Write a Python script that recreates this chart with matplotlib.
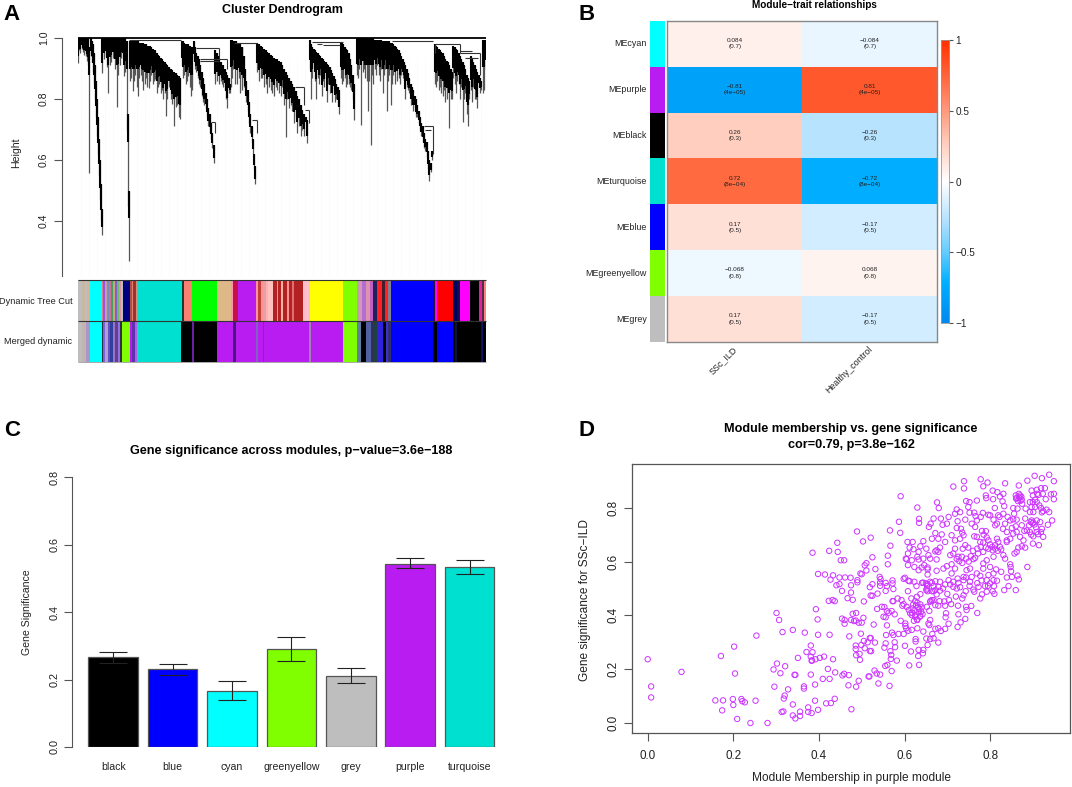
#!/usr/bin/env python3
"""WGCNA four panel figure: dendrogram, module-trait heatmap, bars, scatter."""
import numpy as np
import matplotlib
matplotlib.use('Agg')
import matplotlib.pyplot as plt
from matplotlib.colors import LinearSegmentedColormap, Normalize

plt.rcParams['font.family'] = ['Liberation Sans', 'DejaVu Sans']

W, H = 1072, 787
INK = '#222222'
AXIS = '#555555'

PURPLE = '#B91CF0'
TURQ = '#00E0D0'
GREY = '#BEBEBE'
GY = '#7FFF00'

# ── A: dendrogram, (leaf, top height, tip height) per drawn branch ──
spikes_left = [
    (1, 1, .917), (5, 1, .96), (9, 1, .95), (13, 1, .965), (17, 1, .955), (21, 1, .945),
    (25, 1, .94), (29, 1, .925), (32, 1, .91), (36, .97, .556),
    (40, 1, .94), (43, .99, .92), (46, .98, .89), (49, .95, .85), (52, .91, .80),
    (55, .86, .74), (58, .80, .68), (61, .74, .62), (64, .67, .55), (67, .60, .47),
    (70, .52, .40), (73, .44, .355),
    (75, 1, .885), (80, 1, .93), (85, 1, .94), (89, 1, .905), (93, 1, .82), (97, 1, .91),
    (102, 1, .92), (107, 1, .935), (112, 1, .90), (118, 1, .775), (122, 1, .88), (127, 1, .91),
    (132, 1, .935), (136, 1, .93), (140, 1, .875), (144, 1, .89),
    (148, .99, .70), (151, .75, .45), (154, .50, .27),
    (158, .99, .86), (162, .99, .87), (166, .99, .825), (170, .99, .86), (174, .99, .88),
    (178, .99, .84), (182, .99, .81), (186, .985, .87), (190, .985, .88), (194, .985, .86),
    (198, .985, .83), (202, .98, .85), (206, .98, .87), (210, .975, .84), (214, .975, .835),
    (218, .975, .86), (222, .97, .88), (226, .965, .85), (230, .96, .86), (234, .96, .865),
    (238, .95, .82), (242, .945, .84), (246, .94, .85), (250, .935, .82), (254, .93, .83),
    (258, .925, .80), (262, .92, .82), (266, .915, .745), (270, .91, .80), (275, .905, .84),
    (280, .90, .80), (285, .895, .785), (290, .89, .71), (295, .885, .775), (300, .88, .78),
    (305, .875, .74), (308, .87, .735),
    (313, .99, .91), (317, .99, .87), (321, .985, .88), (325, .98, .85), (329, .98, .86),
    (333, .98, .875), (337, .975, .84), (341, .97, .81), (345, .97, .83),
    (349, .99, .93), (353, .97, .90), (357, .95, .89), (361, .94, .87), (365, .93, .85),
    (369, .91, .84), (373, .89, .81), (377, .87, .79), (381, .85, .78), (385, .82, .77),
    (389, .80, .74), (393, .77, .71), (397, .75, .69), (401, .72, .67), (405, .69, .64),
    (409, .65, .59),
    (414, .96, .85), (418, .95, .86), (422, .94, .88), (426, .93, .85), (430, .92, .86),
    (434, .91, .85), (438, .91, .84), (442, .90, .83), (446, .89, .80), (450, .88, .77),
    (454, .87, .82), (458, .85, .82),
]
spikes_mid = [
    (460, .995, .84), (464, .995, .87), (468, .99, .90), (472, .99, .85), (476, .99, .92),
    (480, .985, .85), (484, .98, .87), (488, .98, .82), (493, .97, .83),
    (495, .97, .87), (499, .94, .84), (503, .90, .82), (507, .86, .79), (511, .83, .76),
    (515, .79, .72), (519, .75, .69), (523, .71, .66), (527, .67, .62), (531, .62, .57),
    (534, .58, .52),
    (540, .985, .89), (545, .98, .86), (550, .975, .87), (555, .97, .87), (560, .965, .84),
    (565, .96, .85), (570, .955, .82), (575, .95, .84), (580, .945, .83), (585, .94, .82),
    (590, .935, .81), (595, .93, .84), (600, .93, .83), (605, .925, .82), (610, .92, .81),
    (615, .91, .84), (620, .90, .78), (625, .89, .676), (630, .88, .80), (635, .87, .77),
    (640, .86, .78), (645, .85, .76), (650, .84, .72), (655, .825, .74), (660, .81, .69),
    (665, .80, .71), (670, .78, .68), (675, .765, .70), (680, .75, .68), (685, .74, .72),
    (690, .73, .655),
    (697, .995, .90), (701, .98, .80), (705, .97, .87), (709, .965, .90), (713, .96, .86),
    (717, .955, .80), (721, .95, .87), (725, .945, .85), (729, .94, .88), (733, .935, .81),
    (737, .93, .86), (741, .925, .84), (745, .92, .87), (749, .915, .79), (753, .91, .85),
    (757, .905, .82), (761, .895, .84), (765, .885, .79), (769, .875, .83), (773, .865, .79),
    (777, .85, .80), (781, .84, .78), (785, .83, .75),
    (790, .985, .87), (794, .985, .85), (798, .98, .86), (802, .97, .87), (806, .965, .84),
    (810, .96, .85), (814, .95, .85), (818, .93, .84), (822, .91, .83), (826, .88, .80),
    (830, .85, .73),
]
spikes_right = [
    (838, 1, .88), (842, 1, .87), (846, 1, .90), (851, 1, .715), (856, 1, .89), (860, 1, .90),
    (864, 1, .87), (868, 1, .86), (872, 1, .76), (876, 1, .86), (880, 1, .65), (884, 1, .88),
    (888, 1, .85), (892, .995, .90), (896, .995, .88), (900, .995, .91), (904, .995, .88),
    (908, .995, .86), (912, .995, .90), (916, .99, .82), (920, .99, .88), (924, .99, .90),
    (928, .99, .76), (932, .99, .86), (936, .99, .88), (940, .985, .78), (944, .985, .85),
    (948, .98, .88), (952, .975, .85), (956, .97, .90), (960, .965, .86), (964, .96, .87),
    (968, .95, .85), (972, .94, .88), (976, .93, .87), (980, .92, .86), (984, .91, .80),
    (988, .90, .84), (992, .885, .83), (996, .87, .82), (1000, .85, .78), (1004, .84, .80),
    (1008, .83, .76), (1012, .81, .77), (1016, .80, .74), (1020, .78, .74), (1024, .76, .72),
    (1028, .74, .70), (1032, .72, .68), (1036, .71, .66), (1040, .69, .64), (1044, .67, .63),
    (1048, .66, .61), (1052, .63, .57), (1056, .60, .53), (1060, .59, .56), (1065, .63, .60),
    (1072, .98, .85), (1076, .975, .84), (1080, .97, .86), (1084, .965, .83), (1088, .96, .84),
    (1092, .955, .82), (1096, .95, .81), (1100, .94, .83), (1104, .93, .79), (1108, .925, .80),
    (1112, .92, .83), (1116, .91, .704), (1120, .90, .80), (1124, .89, .80),
    (1128, .975, .87), (1132, .97, .85), (1136, .965, .82), (1140, .96, .86), (1144, .95, .85),
    (1148, .94, .80), (1152, .93, .84), (1156, .92, .726), (1160, .91, .80), (1164, .90, .82),
    (1168, .88, .75), (1172, .87, .71), (1176, .86, .80),
    (1180, .94, .83), (1184, .93, .79), (1188, .92, .84), (1192, .91, .80), (1196, .90, .80),
    (1200, .89, .77), (1204, .88, .84), (1208, .87, .82), (1212, .86, .83),
    (1217, .995, .82), (1221, .995, .83), (1225, .995, .90),
]
# merge branches joining the clusters: (leaf0, leaf1, height)
joins = [
    (155, 310, .995), (355, 425, .966), (368, 450, .93), (368, 425, .925), (400, 414, .725),
    (470, 540, .985), (523, 538, .73), (653, 680, .84), (683, 696, .763), (703, 798, .988),
    (738, 788, .977), (720, 735, .98), (1040, 1066, .71), (1043, 1062, .70), (943, 1068, .991),
    (1073, 1148, .98), (1148, 1183, .958), (1148, 1208, .95), (1163, 1203, .933),
]
# (leaf, height0, height1)
drops = [
    (425, .966, .93), (450, .93, .90), (414, .725, .69), (538, .73, .69), (680, .84, .78),
    (696, .763, .72), (1066, .71, .62), (1208, .95, .88), (1073, .98, .95), (1148, .98, .95),
]

tree_cut_starts = [0, 13, 22, 28, 38, 73, 76, 82, 88, 94, 100, 106, 112, 118, 124, 130, 136, 158,
                   163, 168, 175, 180, 313, 320, 343, 420, 460, 467, 482, 536, 543, 552, 558, 566,
                   572, 588, 598, 603, 611, 618, 628, 634, 645, 650, 676, 698, 798, 838, 845, 855,
                   865, 878, 888, 898, 915, 922, 932, 940, 1070, 1073, 1080, 1128, 1138, 1148,
                   1177, 1204, 1213, 1220]
tree_cut_colors = [GREY, '#C8B8A0', GREY, '#E0B090', '#00FFFF', '#D08090', '#A050E0', '#C0A0A0',
                   '#7090C0', '#D07090', '#40A060', '#D0A080', '#8060D0', '#60C070', '#E090A0', GREY,
                   '#000080', '#B05040', '#E08070', '#A03030', '#D09080', TURQ, '#203830', '#FA8072',
                   '#00FF00', '#DEB887', '#FF90B0', '#C81048', PURPLE, '#FF90A0', '#C04040', '#FF9090',
                   '#E8A0A8', '#FFB0B0', '#FFC0C0', '#B22222', '#FF9080', '#B22222', '#FFB0A0',
                   '#B22222', '#FF9090', '#B22222', '#E07070', '#B22222', '#FFC0CB', '#FFFF00', GY,
                   '#C0A0B0', '#E090C0', '#B070D0', '#E090B0', '#C060C0', '#202060', '#FF2020',
                   '#402030', '#FF2020', '#808090', '#0000FF', '#301030', '#FF00FF', '#FF0000',
                   '#000060', '#101040', '#FF00FF', '#000000', '#E020A0', '#503040', '#FF8080']
merged_starts = [0, 13, 26, 38, 73, 76, 84, 92, 98, 106, 112, 122, 128, 134, 158, 164, 172, 180,
                 312, 343, 349, 420, 468, 476, 536, 543, 558, 560, 694, 700, 798, 838, 851, 866,
                 880, 890, 900, 918, 925, 932, 940, 1068, 1080, 1128, 1134, 1140, 1212, 1216, 1218]
merged_colors = [GREY, '#C4B4B0', '#A898C8', '#00FFFF', '#203040', '#8060E0', '#B0A0D0', '#6050C0',
                 '#3040A0', '#A070C0', '#604090', '#9070E0', '#303040', GY, PURPLE, '#6030B0',
                 '#B060E0', TURQ, '#000000', '#6A20A0', '#000000', PURPLE, '#4A1580', PURPLE,
                 '#8060C0', PURPLE, '#9018E0', PURPLE, '#A080B0', PURPLE, GY, '#6080A0', '#000000',
                 '#5060A0', '#303060', '#204040', '#3020E0', '#000000', '#4030D0', '#303070',
                 '#0000FF', '#000000', '#0000FF', '#000000', '#101040', '#000000', '#101060',
                 '#808080', '#000000']
LEAF_END = 1226

# ── B: module-trait table ──
modules = ['MEcyan', 'MEpurple', 'MEblack', 'MEturquoise', 'MEblue', 'MEgreenyellow', 'MEgrey']
module_colors = ['#00FFFF', PURPLE, '#000000', TURQ, '#0000FF', GY, GREY]
traits = ['SSc_ILD', 'Healthy_control']
cor_ssc = [0.084, -0.81, 0.26, 0.72, 0.17, -0.068, 0.17]
cor_hc = [-0.084, 0.81, -0.26, -0.72, -0.17, 0.068, -0.17]
p_text = ['(0.7)', '(4e−05)', '(0.3)', '(8e−04)', '(0.5)', '(0.8)', '(0.5)']

# ── C: bars ──
bar_names = ['black', 'blue', 'cyan', 'greenyellow', 'grey', 'purple', 'turquoise']
bar_colors = ['#000000', '#0000FF', '#00FFFF', GY, GREY, PURPLE, TURQ]
bar_values = [.266, .230, .167, .291, .212, .544, .533]
bar_upper = [.281, .247, .197, .327, .234, .560, .554]
bar_lower = [.250, .215, .138, .255, .189, .530, .513]

# ── D: scatter, (module membership, gene significance) ──
points_low = [
    (.000, .237), (.008, .136), (.008, .095), (.079, .190), (.171, .249), (.202, .284), (.204, .184),
    (.254, .325), (.158, .084), (.176, .084), (.174, .047), (.199, .089), (.200, .067), (.209, .015),
    (.219, .089), (.221, .081), (.227, .077), (.252, .083), (.240, .000), (.280, .000), (.301, .409),
    (.307, .383), (.315, .338), (.339, .346), (.367, .336), (.393, .423), (.397, .385), (.385, .633),
    (.398, .328), (.425, .328), (.381, .288), (.371, .264), (.385, .263), (.381, .247), (.384, .233),
    (.383, .231), (.392, .237), (.402, .242), (.412, .247), (.433, .237), (.351, .242), (.302, .221),
    (.294, .199), (.321, .211), (.310, .185), (.343, .179), (.345, .179), (.381, .180), (.421, .201),
    (.409, .164), (.425, .164), (.438, .188), (.391, .143), (.296, .135), (.328, .125), (.365, .136),
    (.365, .128), (.320, .102), (.318, .091), (.391, .083), (.339, .069), (.417, .073), (.428, .074),
    (.437, .090), (.398, .049), (.375, .058), (.375, .041), (.383, .037), (.356, .042), (.356, .026),
    (.339, .028), (.345, .017), (.313, .041), (.317, .043), (.476, .051), (.455, .177), (.459, .183),
    (.470, .178), (.469, .140), (.487, .135), (.493, .157), (.516, .173),
]
points_left_cloud = [
    (.489, .712), (.503, .675), (.443, .670), (.444, .636), (.424, .640), (.451, .605), (.459, .605),
    (.507, .586), (.511, .594), (.521, .689), (.398, .554), (.414, .552), (.433, .549), (.427, .533),
    (.448, .541), (.461, .541), (.474, .540), (.441, .512), (.448, .516), (.454, .491), (.475, .512),
    (.475, .485), (.490, .531), (.490, .523), (.497, .556), (.500, .553), (.511, .567), (.467, .464),
    (.479, .458), (.423, .454), (.432, .457), (.437, .453), (.505, .452), (.519, .505), (.521, .474),
    (.479, .406), (.487, .409), (.504, .391), (.454, .388), (.460, .383), (.460, .369), (.475, .383),
    (.482, .379), (.486, .381), (.493, .373), (.500, .373), (.471, .322), (.498, .332), (.519, .316),
    (.505, .305), (.514, .300), (.486, .288), (.486, .275), (.499, .290), (.507, .278), (.519, .268),
    (.495, .257), (.487, .252), (.496, .235),
]
points_sparse = [
    (.525, .616), (.561, .622), (.567, .659), (.566, .716), (.587, .748), (.590, .707), (.591, .843),
    (.630, .801), (.634, .759), (.634, .744), (.676, .820), (.680, .799), (.714, .879), (.739, .899),
    (.739, .872), (.778, .906), (.794, .894), (.784, .880), (.835, .891), (.867, .883), (.887, .901),
    (.904, .919), (.921, .910), (.938, .923), (.949, .899), (.561, .590), (.532, .572), (.542, .543),
    (.544, .535), (.543, .522), (.543, .510), (.556, .521), (.556, .491), (.572, .530), (.572, .519),
    (.574, .498), (.537, .481), (.525, .473), (.559, .509), (.525, .516),
]
points_lower_band = [
    (.598, .536), (.601, .540), (.609, .529), (.612, .527), (.623, .525), (.628, .509), (.641, .521),
    (.654, .552), (.654, .578), (.650, .519), (.653, .509), (.651, .494), (.608, .490), (.584, .463),
    (.572, .453), (.574, .453), (.536, .424), (.547, .432), (.553, .431), (.593, .457), (.598, .442),
    (.605, .432), (.616, .463), (.637, .479), (.629, .469), (.625, .453), (.630, .447), (.627, .437),
    (.637, .441), (.619, .426), (.613, .408), (.617, .401), (.635, .424), (.633, .411), (.639, .414),
    (.626, .401), (.642, .404), (.629, .385), (.595, .436), (.559, .416), (.570, .416), (.577, .404),
    (.551, .395), (.556, .393), (.563, .410), (.528, .366), (.559, .363), (.557, .327), (.571, .336),
    (.574, .327), (.586, .331), (.598, .331), (.556, .296), (.553, .280), (.577, .300), (.578, .282),
    (.567, .267), (.569, .253), (.568, .238), (.601, .287), (.615, .266), (.633, .272), (.644, .272),
    (.643, .259), (.632, .249), (.626, .312), (.626, .303), (.651, .314), (.660, .312), (.668, .315),
    (.665, .331), (.654, .290), (.679, .299), (.591, .380), (.602, .370), (.602, .361), (.604, .352),
    (.609, .343), (.617, .346), (.630, .352), (.644, .340), (.656, .370), (.658, .364), (.660, .383),
    (.630, .383), (.625, .395), (.637, .398), (.672, .350), (.679, .352), (.685, .342), (.695, .350),
    (.703, .369), (.697, .408), (.696, .393), (.726, .404), (.731, .374), (.742, .387), (.724, .357),
    (.770, .409), (.744, .432), (.756, .435), (.745, .420), (.725, .436), (.652, .432), (.658, .417),
    (.661, .454), (.668, .457), (.672, .438), (.679, .436), (.682, .453), (.693, .452), (.695, .436),
    (.704, .457), (.709, .442), (.555, .212), (.560, .216), (.570, .193), (.582, .232), (.611, .214),
    (.634, .216), (.518, .173), (.530, .195), (.535, .184), (.543, .180), (.539, .147), (.565, .138),
    (.521, .316), (.531, .299), (.522, .267),
]
points_top_right = [
    (.897, .864), (.909, .867), (.919, .873), (.928, .873), (.910, .852), (.913, .848), (.923, .852),
    (.900, .846), (.930, .832), (.942, .850), (.949, .852), (.949, .832), (.862, .837), (.867, .852),
    (.870, .846), (.861, .834), (.874, .830), (.865, .825), (.875, .815), (.893, .821), (.900, .821),
    (.905, .830), (.909, .821), (.915, .809), (.905, .803), (.919, .799), (.924, .788), (.932, .793),
    (.938, .784), (.921, .783), (.897, .803), (.893, .784), (.901, .784), (.854, .799), (.856, .778),
    (.864, .797), (.883, .797), (.862, .756), (.882, .760), (.895, .747), (.901, .745), (.897, .753),
    (.909, .753), (.917, .747), (.921, .722), (.919, .710), (.945, .753), (.935, .737), (.924, .692),
    (.909, .710), (.901, .694), (.893, .710), (.886, .716), (.880, .714), (.874, .735), (.860, .731),
    (.851, .725), (.862, .710), (.870, .692), (.878, .679), (.854, .704), (.847, .685), (.839, .679),
    (.914, .661), (.900, .667), (.882, .652), (.874, .657), (.866, .652), (.857, .630), (.887, .580),
    (.867, .534), (.864, .548), (.860, .494), (.843, .509), (.833, .494), (.849, .564), (.847, .590),
    (.848, .580), (.839, .541), (.851, .543),
]
points_middle = [
    (.790, .846), (.791, .836), (.806, .864), (.817, .858), (.831, .852), (.823, .842), (.807, .832),
    (.829, .824), (.833, .806), (.811, .799), (.819, .772), (.831, .778), (.822, .766), (.812, .735),
    (.816, .741), (.841, .766), (.847, .753), (.854, .757), (.835, .741), (.830, .722), (.839, .710),
    (.796, .774), (.783, .781), (.800, .772), (.808, .756), (.769, .827), (.752, .821), (.744, .825),
    (.749, .803), (.752, .782), (.763, .782), (.766, .769), (.778, .766), (.769, .753), (.757, .741),
    (.765, .729), (.742, .756), (.722, .794), (.730, .784), (.718, .778), (.724, .750), (.703, .766),
    (.699, .741), (.689, .737), (.685, .760), (.668, .760), (.661, .741), (.657, .729), (.722, .725),
    (.732, .722), (.735, .708), (.738, .698), (.718, .679), (.710, .698), (.730, .685), (.763, .694),
    (.769, .692), (.781, .714), (.790, .713), (.796, .679), (.784, .671), (.777, .673), (.816, .685),
    (.823, .655), (.819, .673), (.839, .673), (.812, .661), (.806, .642), (.796, .648), (.784, .636),
    (.770, .648), (.765, .614), (.761, .609), (.749, .652), (.742, .661), (.736, .648), (.718, .648),
    (.726, .618), (.734, .618), (.744, .611), (.714, .630), (.707, .624), (.695, .673), (.687, .701),
    (.672, .706), (.679, .685), (.664, .685), (.683, .652), (.675, .642), (.679, .636), (.672, .638),
    (.644, .676), (.637, .657), (.651, .648), (.633, .636), (.619, .673), (.607, .673), (.612, .652),
    (.621, .646), (.608, .630), (.603, .611), (.605, .609), (.617, .605), (.630, .618), (.633, .608),
    (.644, .611), (.656, .624), (.660, .611), (.640, .578), (.623, .580), (.608, .587), (.633, .568),
    (.646, .587), (.654, .571), (.675, .608), (.675, .566), (.691, .574), (.699, .583), (.710, .590),
    (.718, .574), (.710, .556), (.724, .537), (.738, .543), (.744, .541), (.753, .574), (.745, .568),
    (.769, .556), (.784, .593), (.784, .574), (.777, .547), (.796, .550), (.808, .556), (.814, .571),
    (.800, .580), (.826, .562), (.792, .605), (.808, .618), (.831, .624), (.835, .611), (.862, .636),
    (.816, .529), (.808, .531), (.809, .509), (.792, .531), (.800, .519), (.788, .509), (.773, .506),
    (.761, .496), (.763, .488), (.753, .525), (.738, .531), (.757, .543), (.722, .500), (.714, .525),
    (.703, .531), (.707, .515), (.714, .506), (.726, .521), (.743, .490), (.738, .475), (.735, .463),
    (.792, .488), (.781, .478), (.777, .463), (.806, .490), (.683, .525), (.672, .527), (.664, .521),
    (.654, .516), (.652, .500), (.644, .522), (.679, .506), (.668, .509), (.664, .490), (.654, .490),
    (.675, .478), (.683, .492), (.672, .494), (.664, .457), (.660, .451),
]
points_dense_extra = [
    (.868, .838), (.871, .826), (.860, .846), (.873, .841), (.899, .742), (.904, .738), (.891, .735),
    (.907, .728), (.912, .702), (.896, .700), (.785, .700), (.792, .690), (.800, .664), (.805, .655),
    (.812, .648), (.818, .640), (.826, .645), (.790, .652), (.778, .655), (.772, .630), (.760, .640),
    (.755, .620), (.750, .600), (.735, .595), (.728, .602), (.722, .610), (.620, .440), (.624, .418),
    (.632, .430), (.636, .395), (.622, .380), (.640, .430), (.618, .410), (.610, .420), (.660, .525),
    (.668, .490), (.690, .500), (.695, .515), (.700, .480), (.720, .470), (.730, .505), (.752, .510),
    (.770, .520), (.780, .530), (.795, .510), (.810, .480),
]


def axes_px(fig, left, top, right, bottom):
    """Axes placed by pixel edges of the 1072x787 canvas."""
    return fig.add_axes([left / W, 1 - bottom / H, (right - left) / W, (bottom - top) / H])


def fig_text(fig, x, y, s, **kw):
    kw.setdefault('color', INK)
    kw.setdefault('ha', 'center')
    kw.setdefault('va', 'center')
    fig.text(x / W, 1 - y / H, s, **kw)


def r_axis(ax, which, ticks, labels, size=7.6):
    """Base R look: ticks outside, vertical labels on the y axis."""
    if which == 'y':
        ax.set_yticks(ticks)
        ax.set_yticklabels(labels, rotation=90, va='center', fontsize=size, color=INK)
    else:
        ax.set_xticks(ticks)
        ax.set_xticklabels(labels, fontsize=size, color=INK)
    ax.tick_params(axis=which, length=5.5, width=0.8, color=AXIS, pad=3.5)


fig = plt.figure(figsize=(W / 100, H / 100), dpi=100)

for letter, lx, ly in [('A', 12, 14), ('B', 587, 14), ('C', 12, 431), ('D', 587, 431)]:
    fig_text(fig, lx, ly, letter, fontsize=16, fontweight='bold', color='black')

# ── A ──
ax = axes_px(fig, 77.5, 38, 486, 276)
ax.set_xlim(0, LEAF_END)
ax.set_ylim(.22, 1)
for s in ['top', 'right', 'bottom']:
    ax.spines[s].set_visible(False)
ax.spines['left'].set_position(('outward', 11.5))
ax.spines['left'].set_color(AXIS)
ax.spines['left'].set_linewidth(0.8)
ax.set_xticks([])
r_axis(ax, 'y', [.4, .6, .8, 1.0], ['0.4', '0.6', '0.8', '1.0'])

ax.vlines(np.arange(12, LEAF_END, 24), .22, .93, color='#F0F0F0', lw=0.5, ls=':', zorder=1)

spike = np.array(spikes_left + spikes_mid + spikes_right)
leaf, top, tip = spike.T
# long drops stay thin and grey below the dense part of the branch
neck = np.maximum(tip + 0.3 * (top - tip), top - 0.09)
ax.vlines(leaf, tip, top, color='#555555', lw=0.9, zorder=2)
ax.vlines(leaf, neck, top, color='black', lw=1.5, zorder=3)
ax.hlines([j[2] for j in joins], [j[0] for j in joins], [j[1] for j in joins],
          color='#333333', lw=0.8, zorder=3)
ax.vlines([d[0] for d in drops], [d[2] for d in drops], [d[1] for d in drops],
          color='#333333', lw=0.8, zorder=3)
ax.hlines(1.0, 0, LEAF_END, color='black', lw=1.3, zorder=4, clip_on=False)
fig_text(fig, 282, 9.5, 'Cluster Dendrogram', fontsize=9, fontweight='bold', color='black')
fig_text(fig, 16, 153, 'Height', rotation=90, fontsize=7.6)

axb = axes_px(fig, 77.5, 280, 486, 362)
axb.set_xlim(0, LEAF_END)
axb.set_ylim(0, 2)
axb.axis('off')
for row, (starts, colors) in enumerate([(merged_starts, merged_colors),
                                        (tree_cut_starts, tree_cut_colors)]):
    ends = starts[1:] + [LEAF_END]
    axb.broken_barh([(s, e - s) for s, e in zip(starts, ends)], (row, 1), facecolors=colors, lw=0)
axb.hlines([1, 2], 0, LEAF_END, color='#333333', lw=0.8, clip_on=False)
axb.hlines(0, 0, LEAF_END, color='#999999', lw=0.6, clip_on=False)
fig_text(fig, 72.5, 301, 'Dynamic Tree Cut', ha='right', fontsize=6.6)
fig_text(fig, 72.5, 342, 'Merged dynamic', ha='right', fontsize=6.6)

# ── B ──
cmap = LinearSegmentedColormap.from_list('bwr_wgcna', [
    (0.0, '#0088EE'), (0.14, '#00AEFF'), (0.25, '#66CCFF'), (0.37, '#B8E3FF'), (0.5, '#FFFFFF'),
    (0.63, '#FFCFC0'), (0.75, '#FF9A7E'), (0.86, '#FF6B42'), (1.0, '#FF3000')])
norm = Normalize(-1, 1)

axh = axes_px(fig, 666.7, 20.7, 936.7, 342)
table = np.array([cor_ssc, cor_hc]).T
axh.pcolormesh(np.arange(3), np.arange(8), table[::-1], cmap=cmap, norm=norm, shading='flat')
axh.set_xlim(0, 2)
axh.set_ylim(0, 7)
axh.set_xticks([])
axh.set_yticks([])
for s in axh.spines.values():
    s.set_color('#888888')
    s.set_linewidth(1.0)
for i in range(len(modules)):
    y = 6.5 - i
    for j, col in enumerate([cor_ssc, cor_hc]):
        txt = f'{col[i]:g}'.replace('-', '−')
        axh.text(j + .505, y + .07, txt, ha='center', va='center', fontsize=4.6, color=INK)
        axh.text(j + .505, y - .07, p_text[i], ha='center', va='center', fontsize=4.6, color=INK)

axc = axes_px(fig, 650, 20.7, 665, 342)
axc.bar(0, 1, bottom=np.arange(6, -1, -1), width=1, color=module_colors, lw=0)
axc.set_xlim(-.5, .5)
axc.set_ylim(0, 7)
axc.axis('off')
for i, name in enumerate(modules):
    fig_text(fig, 647, 43.8 + 45.9 * i, name, ha='right', fontsize=6.4)
for name, xend in zip(traits, [732, 868]):
    fig.text(xend / W, 1 - 345 / H, name, rotation=45, ha='right', va='top',
             rotation_mode='anchor', fontsize=6.4, color=INK)
fig_text(fig, 814, 5.5, 'Module−trait relationships', fontsize=7.2, fontweight='bold', color='black')

axl = axes_px(fig, 941, 40, 949.3, 323)
axl.imshow(np.linspace(1, -1, 256)[:, None], cmap=cmap, norm=norm, aspect='auto', extent=(0, 1, -1, 1))
axl.set_xticks([])
axl.yaxis.tick_right()
axl.set_yticks([1, .5, 0, -.5, -1])
axl.set_yticklabels(['1', '0.5', '0', '−0.5', '−1'], fontsize=7.2, color=INK)
axl.tick_params(axis='y', length=3, width=0.8, color=AXIS, pad=1.5)
for s in axl.spines.values():
    s.set_color('#999999')
    s.set_linewidth(0.6)

# ── C ──
axbar = axes_px(fig, 72.3, 477.3, 497, 747)
axbar.set_xlim((72.3 - 113.2) / 59.4, (497 - 113.2) / 59.4)
axbar.set_ylim(0, .8)
xpos = np.arange(len(bar_names))
axbar.bar(xpos, bar_values, width=.835, color=bar_colors, edgecolor=AXIS, lw=0.9)
axbar.vlines(xpos, bar_lower, bar_upper, color='#222222', lw=0.8)
axbar.hlines(bar_upper, xpos - .235, xpos + .235, color='#222222', lw=0.8)
axbar.hlines(bar_lower, xpos - .235, xpos + .235, color='#222222', lw=0.8)
for s in ['top', 'right', 'bottom']:
    axbar.spines[s].set_visible(False)
axbar.spines['left'].set_color(AXIS)
axbar.spines['left'].set_linewidth(0.8)
r_axis(axbar, 'y', [0, .2, .4, .6, .8], ['0.0', '0.2', '0.4', '0.6', '0.8'], size=7.8)
axbar.set_xticks([])
for i, name in enumerate(bar_names):
    fig_text(fig, 113.2 + 59.4 * i, 766.7, name, fontsize=7.6)
fig_text(fig, 291, 450.7, 'Gene significance across modules, p−value=3.6e−188', fontsize=9.1,
         fontweight='bold', color='black')
fig_text(fig, 26.7, 611.7, 'Gene Significance', rotation=90, fontsize=7.6)

# ── D ──
axs = axes_px(fig, 632, 464, 1070, 733)
# pixel edges map onto these limits: 0.0 at x=647.7, 0.2 every 85.6 px; 0.0 at y=723, 0.2 every 53.8 px
axs.set_xlim((632 - 647.7) / 428, (1070 - 647.7) / 428)
axs.set_ylim((723 - 733) / 269, (723 - 464) / 269)
scatter_pts = np.array(points_low + points_left_cloud + points_sparse + points_lower_band
                       + points_top_right + points_middle + points_dense_extra)
axs.scatter(scatter_pts[:, 0], scatter_pts[:, 1], s=15, facecolors='none', edgecolors='#CC33FF', linewidths=0.7)
for s in axs.spines.values():
    s.set_color(AXIS)
    s.set_linewidth(0.9)
r_axis(axs, 'x', [0, .2, .4, .6, .8], ['0.0', '0.2', '0.4', '0.6', '0.8'], size=8.4)
r_axis(axs, 'y', [0, .2, .4, .6, .8], ['0.0', '0.2', '0.4', '0.6', '0.8'], size=8.4)
axs.tick_params(axis='x', pad=7)
fig_text(fig, 851, 429, 'Module membership vs. gene significance', fontsize=9.1, fontweight='bold', color='black')
fig_text(fig, 851, 445, 'cor=0.79, p=3.8e−162', fontsize=9.1, fontweight='bold', color='black')
fig_text(fig, 851, 778, 'Module Membership in purple module', fontsize=8.6)
fig_text(fig, 585, 600, 'Gene significance for SSc−ILD', rotation=90, fontsize=8.6)

fig.savefig('out.png', dpi=100)
